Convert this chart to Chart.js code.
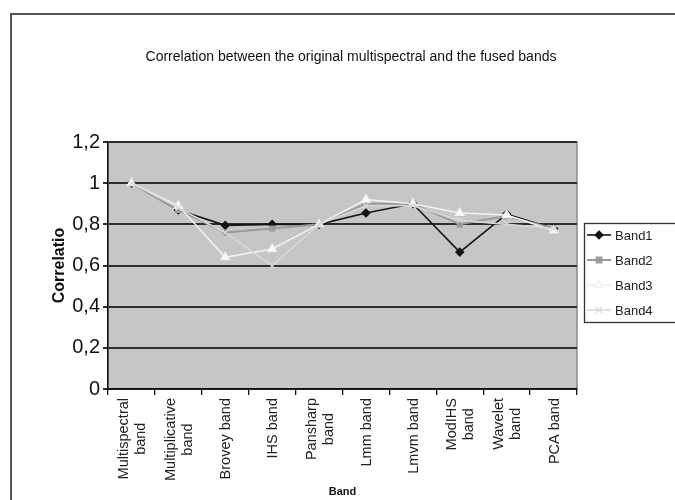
<!DOCTYPE html>
<html>
<head>
<meta charset="utf-8">
<script src="https://cdn.jsdelivr.net/npm/chart.js@4.4.1/dist/chart.umd.min.js"></script>
<style>
  html, body { margin: 0; padding: 0; background: #ffffff; }
  #wrap { width: 675px; height: 500px; position: relative; }
</style>
</head>
<body>
<div id="wrap"><canvas id="c" width="675" height="500"></canvas></div>
<script>
// ---- data ----
const chartTitle = 'Correlation between the original multispectral and the fused bands';
const xTitle = 'Band';
const yTitle = 'Correlatio';
const categories = [
  ['Multispectral', 'band'],
  ['Multiplicative', 'band'],
  ['Brovey band'],
  ['IHS band'],
  ['Pansharp', 'band'],
  ['Lmm band'],
  ['Lmvm band'],
  ['ModIHS', 'band'],
  ['Wavelet', 'band'],
  ['PCA band']
];
const seriesNames = ['Band1', 'Band2', 'Band3', 'Band4'];
const band1 = [1.00, 0.87, 0.795, 0.80, 0.80, 0.855, 0.90, 0.665, 0.85, 0.78];
const band2 = [1.00, 0.87, 0.76, 0.78, 0.80, 0.90, 0.90, 0.80, 0.84, 0.78];
const band3 = [1.00, 0.89, 0.64, 0.68, 0.80, 0.92, 0.90, 0.855, 0.845, 0.77];
const band4 = [1.00, 0.88, 0.76, 0.60, 0.80, 0.89, 0.89, 0.82, 0.80, 0.78];
const yTickValues = [0, 0.2, 0.4, 0.6, 0.8, 1, 1.2];
const yTickLabels = ['0', '0,2', '0,4', '0,6', '0,8', '1', '1,2'];

// ---- styles ----
const FONT = "'Liberation Sans', Arial, sans-serif";
const seriesStyles = [
  { color: '#151515', point: 'rectRot', radius: 4, fill: '#151515', width: 1.6 },
  { color: '#9a9a9a', point: 'rect', radius: 3.5, fill: '#9a9a9a', width: 2 },
  { color: '#f2f2f2', point: 'triangle', radius: 5, fill: '#fafafa', width: 1.6 },
  { color: '#d8d8d8', point: 'crossRot', radius: 4, fill: '#d8d8d8', width: 1.6 }
];
const seriesData = [band1, band2, band3, band4];

function drawMarker(ctx, style, x, y) {
  const r = style.radius;
  ctx.save();
  ctx.fillStyle = style.fill;
  ctx.strokeStyle = style.color;
  ctx.lineWidth = 1.2;
  ctx.beginPath();
  if (style.point === 'rectRot') {
    ctx.moveTo(x, y - r); ctx.lineTo(x + r, y); ctx.lineTo(x, y + r); ctx.lineTo(x - r, y); ctx.closePath();
    ctx.fill(); ctx.stroke();
  } else if (style.point === 'rect') {
    ctx.rect(x - r * 0.8, y - r * 0.8, r * 1.6, r * 1.6);
    ctx.fill(); ctx.stroke();
  } else if (style.point === 'triangle') {
    ctx.moveTo(x, y - r); ctx.lineTo(x + r * 0.87, y + r * 0.5); ctx.lineTo(x - r * 0.87, y + r * 0.5); ctx.closePath();
    ctx.fill(); ctx.stroke();
  } else {
    ctx.moveTo(x - r * 0.7, y - r * 0.7); ctx.lineTo(x + r * 0.7, y + r * 0.7);
    ctx.moveTo(x + r * 0.7, y - r * 0.7); ctx.lineTo(x - r * 0.7, y + r * 0.7);
    ctx.stroke();
  }
  ctx.restore();
}

const decorPlugin = {
  id: 'decor',
  beforeDraw(chart) {
    const ctx = chart.ctx, a = chart.chartArea;
    ctx.save();
    // outer frame
    ctx.strokeStyle = '#555';
    ctx.lineWidth = 2;
    ctx.strokeRect(11, 14, 720, 540);
    // plot area
    ctx.fillStyle = '#c6c6c6';
    ctx.fillRect(a.left, a.top, a.right - a.left, a.bottom - a.top);
    ctx.strokeStyle = '#8a8a8a';
    ctx.lineWidth = 1.5;
    ctx.strokeRect(a.left, a.top, a.right - a.left, a.bottom - a.top);
    ctx.restore();
  },
  afterDraw(chart) {
    const ctx = chart.ctx;
    const xs = chart.scales.x;
    ctx.save();
    // title
    ctx.fillStyle = '#111';
    ctx.font = '14px ' + FONT;
    ctx.textAlign = 'center';
    ctx.textBaseline = 'middle';
    ctx.fillText(chartTitle, 351, 57);
    // x tick labels (rotated, lines centred like the original)
    ctx.font = '14.5px ' + FONT;
    ctx.fillStyle = '#222';
    const topY = 398, lineH = 17;
    categories.forEach((lines, i) => {
      const cx = xs.getPixelForTick(i) + 1;
      const maxW = Math.max(...lines.map(l => ctx.measureText(l).width));
      ctx.save();
      ctx.translate(cx, topY);
      ctx.rotate(-Math.PI / 2);
      ctx.textAlign = 'center';
      ctx.textBaseline = 'middle';
      lines.forEach((l, j) => {
        ctx.fillText(l, -maxW / 2, (j - (lines.length - 1) / 2) * lineH);
      });
      ctx.restore();
    });
    // legend
    const lx = 584, ly = 223;
    ctx.fillStyle = '#ffffff';
    ctx.fillRect(lx, ly, 110, 100);
    ctx.strokeStyle = '#333';
    ctx.lineWidth = 1.3;
    ctx.strokeRect(lx + 0.5, ly + 0.5, 110, 99);
    ctx.font = '13px ' + FONT;
    ctx.textAlign = 'left';
    ctx.textBaseline = 'middle';
    seriesNames.forEach((name, i) => {
      const y = 235 + i * 25;
      const st = seriesStyles[i];
      ctx.strokeStyle = st.color;
      ctx.lineWidth = st.width;
      ctx.beginPath(); ctx.moveTo(587, y); ctx.lineTo(611, y); ctx.stroke();
      drawMarker(ctx, st, 599, y);
      ctx.fillStyle = '#222';
      ctx.fillText(name, 615, y + 1);
    });
    ctx.restore();
  }
};

new Chart(document.getElementById('c'), {
  type: 'line',
  data: {
    labels: categories,
    datasets: seriesNames.map((name, i) => ({
      label: name,
      data: seriesData[i],
      borderColor: seriesStyles[i].color,
      backgroundColor: seriesStyles[i].fill,
      borderWidth: seriesStyles[i].width,
      pointStyle: seriesStyles[i].point,
      pointRadius: seriesStyles[i].radius,
      pointBorderColor: seriesStyles[i].color,
      pointBackgroundColor: seriesStyles[i].fill,
      pointBorderWidth: 1.2,
      tension: 0,
      fill: false
    })).reverse()
  },
  options: {
    responsive: false,
    animation: false,
    events: [],
    layout: { padding: { left: 46, top: 142, right: 98, bottom: 0 } },
    plugins: { legend: { display: false }, title: { display: false }, tooltip: { enabled: false } },
    scales: {
      x: {
        type: 'category',
        offset: true,
        grid: { display: true, offset: true, drawOnChartArea: false, drawTicks: true, tickLength: 6, color: '#111', lineWidth: 1.3 },
        border: { display: true, color: '#111', width: 1.5 },
        ticks: { display: false },
        title: { display: true, text: xTitle, color: '#111', font: { family: FONT, size: 11, weight: 'bold' }, padding: { top: 0, bottom: 1 } },
        afterFit(scale) { scale.height = 111; }
      },
      y: {
        min: 0,
        max: 1.2,
        afterBuildTicks(scale) { scale.ticks = yTickValues.map(v => ({ value: v })); },
        grid: { color: '#2e2e2e', lineWidth: 2, drawTicks: true, tickLength: 5 },
        border: { display: true, color: '#111', width: 1.5 },
        ticks: {
          color: '#111',
          padding: 3,
          font: { family: FONT, size: 20 },
          callback(v) { const k = yTickValues.findIndex(t => Math.abs(t - v) < 1e-6); return k >= 0 ? yTickLabels[k] : ''; }
        },
        title: { display: true, text: yTitle, color: '#111', font: { family: FONT, size: 16, weight: 'bold' }, padding: { top: 4, bottom: 0 } },
        afterFit(scale) { scale.width = 62; }
      }
    }
  },
  plugins: [decorPlugin]
});
</script>
</body>
</html>
